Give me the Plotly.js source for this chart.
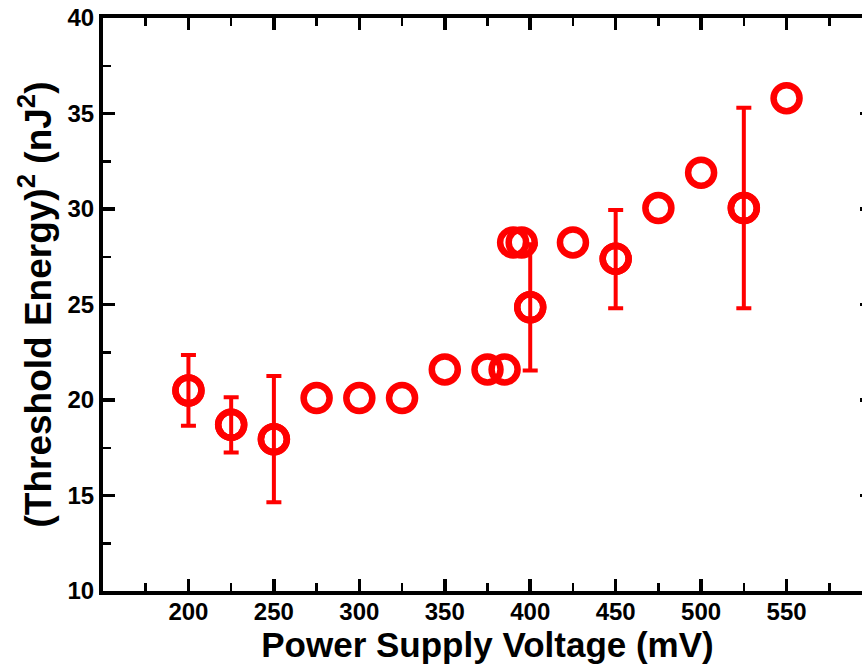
<!DOCTYPE html>
<html><head><meta charset="utf-8">
<script src="https://cdn.plot.ly/plotly-3.0.1.min.js"></script>
<style>html,body{margin:0;padding:0;overflow:hidden;background:#fff;}#chart{width:880px;height:664px;}</style>
</head><body><div id="chart"></div>
<script>
const voltage = [200, 225, 250, 275, 300, 325, 350, 375, 385, 390, 395, 400, 425, 450, 475, 500, 525, 550];
const energySq = [20.5, 18.7, 17.95, 20.1, 20.1, 20.1, 21.6, 21.6, 21.6, 28.25, 28.25, 24.85, 28.25, 27.4, 30.05, 31.9, 30.05, 35.8];
const errPlus  = [1.85, 1.45, 3.3, 0, 0, 0, 0, 0, 0, 0, 0, 3.3, 0, 2.55, 0, 0, 5.25, 0];
const errMinus = [1.85, 1.45, 3.3, 0, 0, 0, 0, 0, 0, 0, 0, 3.3, 0, 2.6, 0, 0, 5.25, 0];
const xTickVals = [200, 250, 300, 350, 400, 450, 500, 550];
const yTickVals = [10, 15, 20, 25, 30, 35, 40];

const red = '#ff0000';
const withErr = voltage.map((v, i) => i).filter(i => errPlus[i] > 0 || errMinus[i] > 0);
const errTrace = {
  x: withErr.map(i => voltage[i]), y: withErr.map(i => energySq[i]),
  type: 'scatter', mode: 'markers', hoverinfo: 'skip',
  marker: {symbol: 'circle-open', size: 26, color: red, line: {width: 6.5, color: red}},
  error_y: {type: 'data', symmetric: false,
            array: withErr.map(i => errPlus[i]), arrayminus: withErr.map(i => errMinus[i]),
            color: red, thickness: 4, width: 7.5}
};
const markTrace = {
  x: voltage, y: energySq, type: 'scatter', mode: 'markers',
  marker: {symbol: 'circle-open', size: 26, color: red, line: {width: 6.5, color: red}}
};
const fam = 'Liberation Sans, Arial, sans-serif';
const layout = {
  width: 880, height: 664,
  margin: {l: 103, r: 8, t: 18, b: 73},
  paper_bgcolor: '#fff', plot_bgcolor: '#fff',
  showlegend: false,
  font: {family: fam, color: '#000'},
  xaxis: {
    range: [150, 600], showgrid: false, zeroline: false,
    showline: true, linewidth: 4, linecolor: '#000', mirror: 'allticks',
    ticks: 'inside', ticklen: 12, tickwidth: 3.5, tickcolor: '#000',
    tickvals: xTickVals, ticktext: xTickVals.map(v => '<b>' + v + '</b>'),
    tickfont: {family: fam, size: 24, color: '#000', weight: 700},
    ticklabelstandoff: -4,
    minor: {dtick: 25, tick0: 150, ticks: 'inside', ticklen: 8, tickwidth: 2.5, tickcolor: '#000'},
    title: {text: '<b>Power Supply Voltage (mV)</b>', font: {family: fam, size: 35, color: '#000'}, standoff: 5}
  },
  yaxis: {
    range: [10, 40], showgrid: false, zeroline: false,
    showline: true, linewidth: 4, linecolor: '#000', mirror: 'allticks',
    ticks: 'inside', ticklen: 12, tickwidth: 3.5, tickcolor: '#000',
    tickvals: yTickVals, ticktext: yTickVals.map(v => '<b>' + v + '</b>'),
    tickfont: {family: fam, size: 24, color: '#000', weight: 700},
    minor: {dtick: 2.5, tick0: 10, ticks: 'inside', ticklen: 8, tickwidth: 2.5, tickcolor: '#000'},
    title: {text: '<b>(Threshold Energy)<sup>2</sup> (nJ<sup>2</sup>)</b>', font: {family: fam, size: 37, color: '#000'}, standoff: 6}
  }
};
Plotly.newPlot('chart', [errTrace, markTrace], layout, {displayModeBar: false, staticPlot: true});
</script>
</body></html>
